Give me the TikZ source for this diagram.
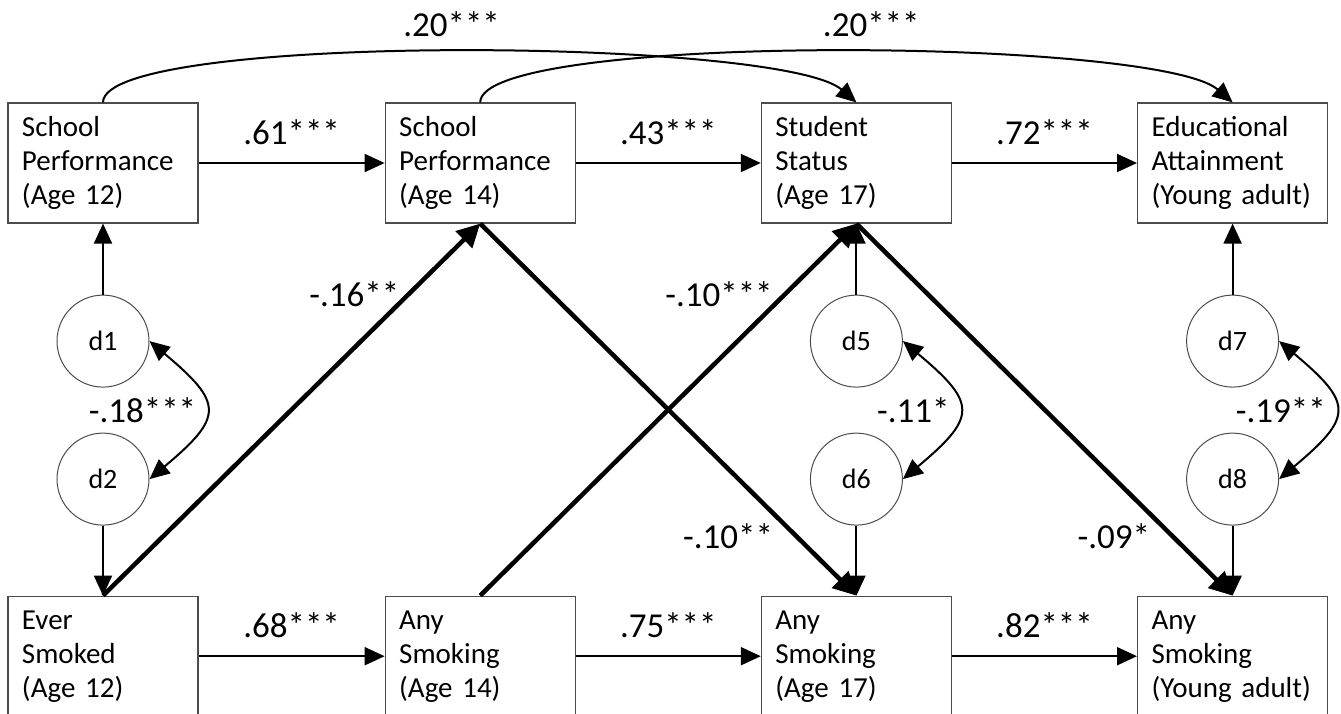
\documentclass[tikz,border=0pt]{standalone}
\usepackage{fontspec}
\setmainfont{Carlito}
\usepackage{tikz}
\usetikzlibrary{positioning,arrows.meta}

\begin{document}
\begin{tikzpicture}[x=1pt, y=1pt,
		box/.style={draw=black!70, line width=1.2pt, text width=162pt, inner xsep=14pt,
		inner ysep=0pt, minimum height=120pt, align=left, font=\fontsize{29}{34}\selectfont},
		dist/.style={circle, draw=black!70, line width=1pt, minimum size=92pt, inner sep=0pt,
		font=\fontsize{28}{32}\selectfont},
		link/.style={line width=2pt, -{Triangle[length=20pt,width=18pt]}},
		heavy/.style={line width=4.5pt, -{Triangle[length=23pt,width=23pt]}},
		cov/.style={line width=2pt, {Triangle[length=20pt,width=18pt]}-{Triangle[length=20pt,width=18pt]},
		out=-40, in=40, looseness=1.8},
		coef/.style={inner sep=0pt, font=\fontsize{35}{40}\selectfont}]
		\useasboundingbox (-103,163) rectangle (1238,-550);
		% outcomes, top row
		\node[box] (sp12) at (0,0) {School\\Performance\\(Age 12)};
		\node[box, right=186pt of sp12] (sp14) {School\\Performance\\(Age 14)};
		\node[box, right=185pt of sp14] (ss17) {Student\\Status\\(Age 17)};
		\node[box, right=185pt of ss17] (ea) {Educational\\Attainment\\(Young adult)};
		% disturbances
		\node[dist, below=71pt of sp12] (d1) {d1};
		\node[dist, below=45pt of d1] (d2) {d2};
		\node[dist, below=71pt of ss17] (d5) {d5};
		\node[dist, below=45pt of d5] (d6) {d6};
		\node[dist, below=71pt of ea] (d7) {d7};
		\node[dist, below=45pt of d7] (d8) {d8};
		% smoking, bottom row
		\node[box, below=70pt of d2] (es12) {Ever\\Smoked\\(Age 12)};
		\node[box, right=186pt of es12] (as14) {Any\\Smoking\\(Age 14)};
		\node[box, right=185pt of as14] (as17) {Any\\Smoking\\(Age 17)};
		\node[box, right=185pt of as17] (as18) {Any\\Smoking\\(Young adult)};

		\draw[link] (sp12) -- (sp14) node[coef, midway, above=17pt] {.61***};
		\draw[link] (sp14) -- (ss17) node[coef, midway, above=17pt] {.43***};
		\draw[link] (ss17) -- (ea) node[coef, midway, above=17pt] {.72***};
		\draw[link] (es12) -- (as14) node[coef, midway, above=17pt] {.68***};
		\draw[link] (as14) -- (as17) node[coef, midway, above=17pt] {.75***};
		\draw[link] (as17) -- (as18) node[coef, midway, above=17pt] {.82***};

		\draw[link] (sp12.north) .. controls +(0,70) and +(-75,65) .. (ss17.north)
			node[coef, pos=0.5, above=14pt] {.20***};
		\draw[link] (sp14.north) .. controls +(0,70) and +(-75,65) .. (ea.north)
			node[coef, pos=0.54, above=14pt] {.20***};

		\draw[link] (d1) -- (sp12);
		\draw[link] (d2) -- (es12);
		\draw[link] (d5) -- (ss17);
		\draw[link] (d6) -- (as17);
		\draw[link] (d7) -- (ea);
		\draw[link] (d8) -- (as18);

		\draw[cov] (d1.east) to node[coef, midway, left=8pt] {-.18***} (d2.east);
		\draw[cov] (d5.east) to node[coef, midway, left=8pt] {-.11*} (d6.east);
		\draw[cov] (d7.east) to node[coef, midway, left=8pt] {-.19**} (d8.east);

		\draw[heavy] (es12.north) -- (sp14.south) node[coef, pos=0.81, left=7pt] {-.16**};
		\draw[heavy] (as14.north) -- (ss17.south) node[coef, pos=0.81, left=10pt] {-.10***};
		\draw[heavy] (sp14.south) -- (as17.north) node[coef, pos=0.84, left=21pt] {-.10**};
		\draw[heavy] (ss17.south) -- (as18.north) node[coef, pos=0.84, left=20pt] {-.09*};
	\end{tikzpicture}
\end{document}
